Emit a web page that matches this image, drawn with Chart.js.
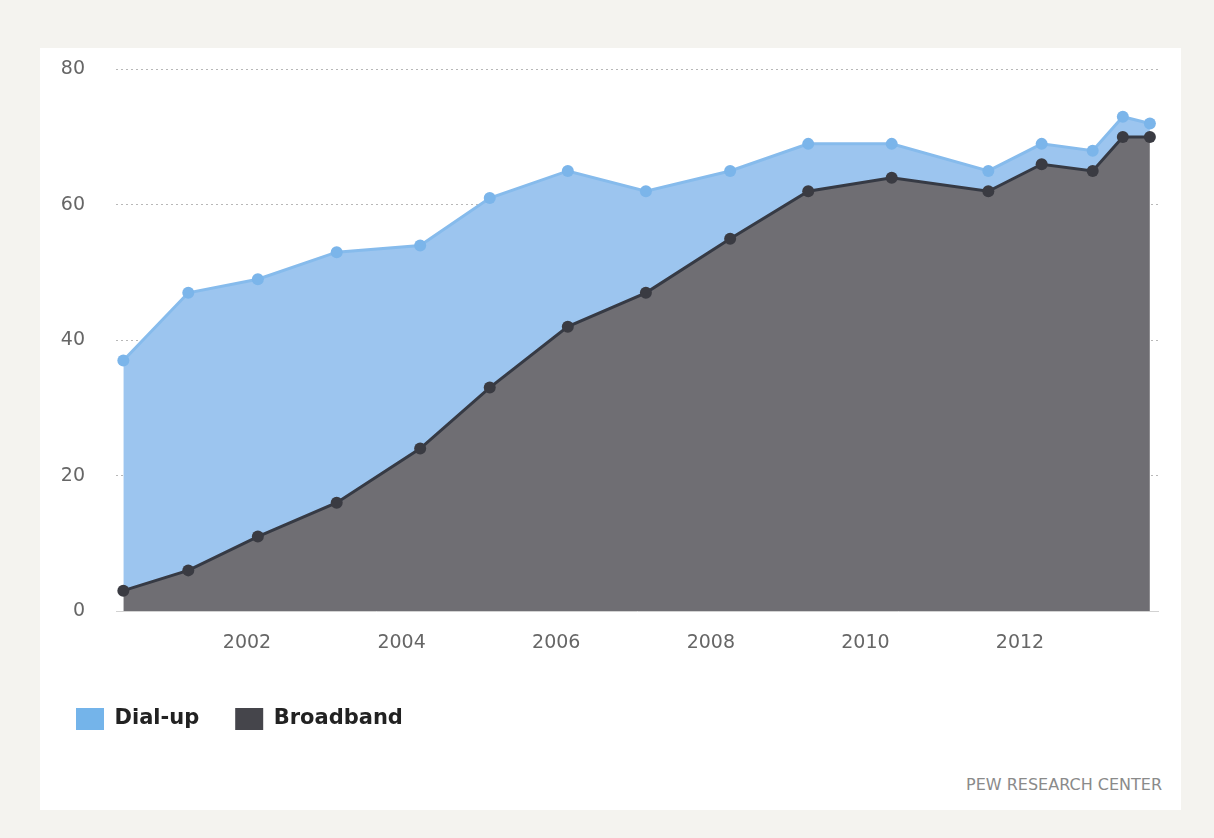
<!DOCTYPE html>
<html>
<head>
<meta charset="utf-8">
<script src="https://cdn.jsdelivr.net/npm/chart.js@4/dist/chart.umd.min.js"></script>
<style>
  html, body { margin: 0; padding: 0; }
  body { width: 1214px; height: 838px; background: #f4f3ef; position: relative; overflow: hidden; }
  #panel { position: absolute; left: 40px; top: 48px; width: 1141px; height: 762px; background: #ffffff; overflow: hidden; }
  #wrap { position: absolute; left: 0; top: -21px; width: 1141px; height: 713px; }
  #source { position: absolute; right: 19px; top: 727px; font-family: "DejaVu Sans", sans-serif; font-size: 16px; color: #8a8a8a; }
</style>
</head>
<body>
<div id="panel">
  <div id="wrap"><canvas id="c"></canvas></div>
  <div id="source">PEW RESEARCH CENTER</div>
</div>
<script>
// Survey dates (decimal years)
const surveyYears = [2000.40, 2001.24, 2002.14, 2003.16, 2004.24, 2005.14, 2006.15, 2007.16,
                     2008.25, 2009.26, 2010.34, 2011.59, 2012.28, 2012.94, 2013.33, 2013.68];
// % of adults with broadband at home
const broadband = [3, 6, 11, 16, 24, 33, 42, 47, 55, 62, 64, 62, 66, 65, 70, 70];
// % of adults with dial-up at home (stacked above broadband)
const dialup = [34, 41, 38, 37, 30, 28, 23, 15, 10, 7, 5, 3, 3, 3, 3, 2];
const xTickYears = [2002, 2004, 2006, 2008, 2010, 2012];
const yTicks = [0, 20, 40, 60, 80];

const toPoints = (vals) => vals.map((v, i) => ({ x: surveyYears[i], y: v }));

const legendColors = { 0: '#45454b', 1: '#74b4ea' };

new Chart(document.getElementById('c'), {
  type: 'line',
  data: {
    datasets: [
      {
        label: 'Broadband',
        data: toPoints(broadband),
        borderColor: '#363a44',
        backgroundColor: '#6f6e73',
        pointBackgroundColor: '#3a3b42',
        pointBorderColor: '#3a3b42',
        borderWidth: 3,
        pointRadius: 6,
        pointBorderWidth: 0,
        fill: 'origin',
        tension: 0
      },
      {
        label: 'Dial-up',
        data: toPoints(dialup),
        borderColor: '#86bbec',
        backgroundColor: '#9cc5ef',
        pointBackgroundColor: '#7bb5ea',
        pointBorderColor: '#7bb5ea',
        borderWidth: 3,
        pointRadius: 6,
        pointBorderWidth: 0,
        fill: '-1',
        tension: 0
      }
    ]
  },
  options: {
    responsive: true,
    maintainAspectRatio: false,
    animation: false,
    layout: { padding: { top: 21, right: 23, left: 0, bottom: 0 } },
    plugins: {
      tooltip: { enabled: false },
      legend: {
        position: 'bottom',
        align: 'start',
        labels: {
          boxWidth: 28,
          boxHeight: 22,
          padding: 36,
          color: '#222222',
          font: { family: '"DejaVu Sans", sans-serif', size: 21, weight: 'bold' },
          sort: (a, b) => b.datasetIndex - a.datasetIndex,
          generateLabels(chart) {
            const items = Chart.defaults.plugins.legend.labels.generateLabels(chart);
            items.forEach(it => {
              it.fillStyle = legendColors[it.datasetIndex];
              it.strokeStyle = legendColors[it.datasetIndex];
              it.lineWidth = 0;
            });
            return items;
          }
        }
      }
    },
    scales: {
      x: {
        type: 'linear',
        min: 2000.305,
        max: 2013.785,
        afterBuildTicks(scale) { scale.ticks = xTickYears.map(v => ({ value: v })); },
        afterFit(scale) { scale.height = 61; },
        grid: { display: false, drawTicks: false },
        border: { display: true, color: '#d2d2d2', width: 1 },
        ticks: {
          padding: 21,
          color: '#666666',
          font: { family: '"DejaVu Sans", sans-serif', size: 19 },
          callback: (v) => String(v),
          maxRotation: 0,
          autoSkip: false
        }
      },
      y: {
        stacked: true,
        min: 0,
        max: 80,
        afterBuildTicks(scale) { scale.ticks = yTicks.map(v => ({ value: v })); },
        afterFit(scale) { scale.width = 76; },
        border: { display: false, dash: [2, 3] },
        grid: {
          drawTicks: false,
          color: (ctx) => ctx.tick && ctx.tick.value === 0 ? 'rgba(0,0,0,0)' : '#b8b8b8',
          lineWidth: 1
        },
        ticks: {
          padding: 31,
          color: '#666666',
          font: { family: '"DejaVu Sans", sans-serif', size: 19 }
        }
      }
    }
  }
});
</script>
</body>
</html>
